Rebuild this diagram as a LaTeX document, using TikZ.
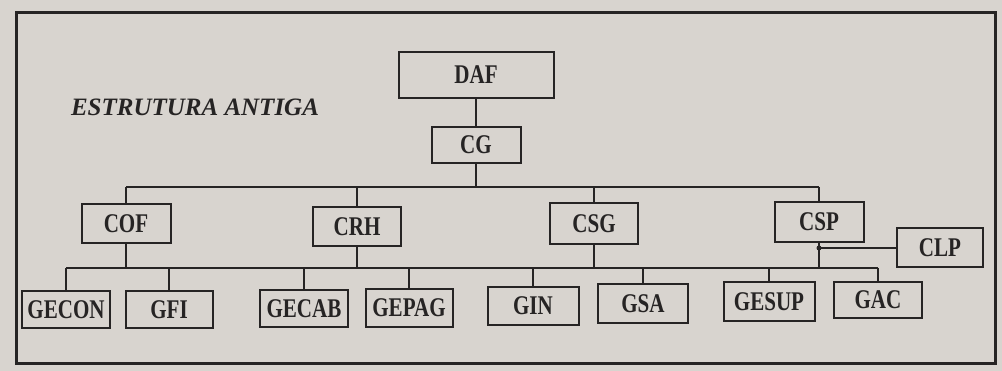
\documentclass[tikz,border=0pt]{standalone}
\usepackage{fontspec}
\setmainfont{Liberation Serif}
\newfontfamily\orgfont[FakeStretch=0.78]{Liberation Serif}
\definecolor{paper}{RGB}{216,212,207}
\definecolor{ink}{RGB}{38,36,36}
\tikzset{
  unit/.style={draw=ink, line width=2pt, fill=paper, inner sep=0pt,
    text depth=0pt, font=\orgfont\bfseries\fontsize{27}{27}\selectfont,
    text=ink},
  link/.style={draw=ink, line width=1.8pt}
}

\begin{document}
\begin{tikzpicture}[x=1pt, y=-1pt]
    % Paper and frame
    \fill[paper] (0,0) rectangle (1002,371);
    \draw[ink, line width=3pt] (16,13) rectangle (995,364);
    \node[font=\bfseries\itshape\fontsize{25}{25}\selectfont, text=ink] (title) at (195,107) {ESTRUTURA ANTIGA};

    % Top of the chart
    \node[unit, minimum width=155pt, minimum height=46pt] (DAF) at (476,75) {DAF};
    \node[unit, minimum width=89pt, minimum height=36pt] (CG) at (476,145) {CG};

    % Coordinations
    \node[unit, minimum width=89pt, minimum height=39pt] (COF) at (126,224) {COF};
    \node[unit, minimum width=88pt, minimum height=39pt] (CRH) at (357,227) {CRH};
    \node[unit, minimum width=88pt, minimum height=41pt] (CSG) at (594,224) {CSG};
    \node[unit, minimum width=89pt, minimum height=40pt] (CSP) at (819,222) {CSP};
    \node[unit, minimum width=86pt, minimum height=39pt] (CLP) at (940,248) {CLP};

    % Managements
    \node[unit, minimum width=88pt, minimum height=37pt] (GECON) at (66,310) {GECON};
    \node[unit, minimum width=87pt, minimum height=37pt] (GFI) at (169,310) {GFI};
    \node[unit, minimum width=88pt, minimum height=37pt] (GECAB) at (304,309) {GECAB};
    \node[unit, minimum width=87pt, minimum height=38pt] (GEPAG) at (409,308) {GEPAG};
    \node[unit, minimum width=91pt, minimum height=38pt] (GIN) at (533,306) {GIN};
    \node[unit, minimum width=90pt, minimum height=39pt] (GSA) at (643,304) {GSA};
    \node[unit, minimum width=91pt, minimum height=39pt] (GESUP) at (769,302) {GESUP};
    \node[unit, minimum width=88pt, minimum height=36pt] (GAC) at (878,300) {GAC};

    % Bus lines
    \coordinate (bus1) at (0,187);
    \coordinate (bus2) at (0,268);

    % Links to the coordinations
    \draw[link] (DAF.south) -- (CG.north);
    \draw[link] (CG.south) -- (CG.south |- bus1);
    \draw[link] (COF.north |- bus1) -- (CSP.north |- bus1);
    \foreach \c in {COF,CRH,CSG,CSP}
      \draw[link] (\c.north |- bus1) -- (\c.north);

    % Links to the managements
    \draw[link] (GECON.north |- bus2) -- (GAC.north |- bus2);
    \foreach \c in {COF,CRH,CSG,CSP}
      \draw[link] (\c.south) -- (\c.south |- bus2);
    \foreach \g in {GECON,GFI,GECAB,GEPAG,GIN,GSA,GESUP,GAC}
      \draw[link] (\g.north |- bus2) -- (\g.north);
    \draw[link] (CSP.south |- CLP.west) -- (CLP.west);
    \fill[ink] (CSP.south |- CLP.west) circle (2.5pt);
\end{tikzpicture}
\end{document}
